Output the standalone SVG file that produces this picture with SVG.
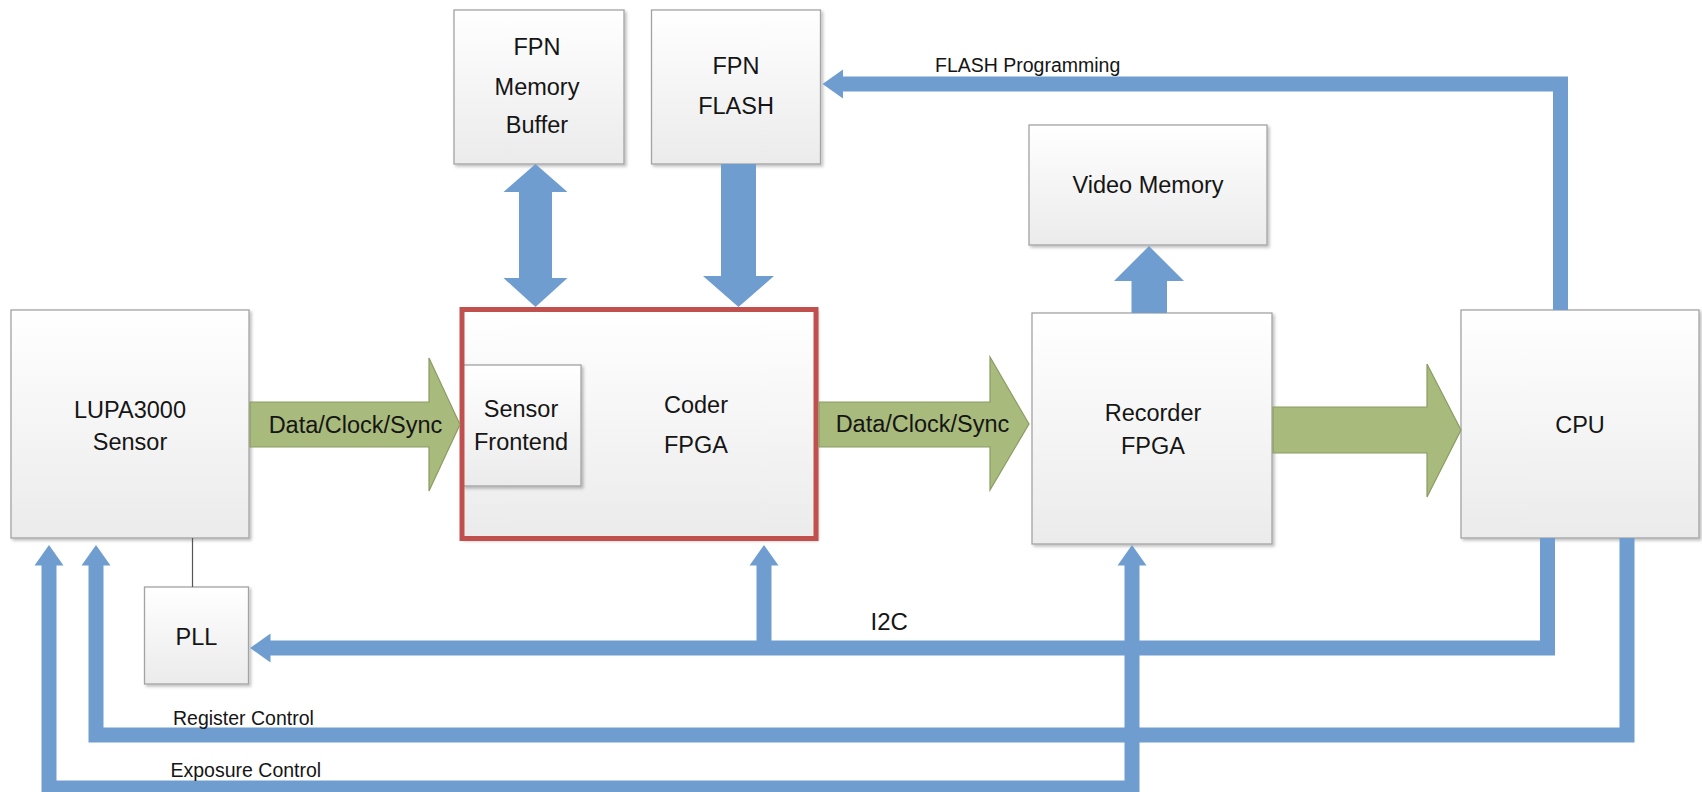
<svg xmlns="http://www.w3.org/2000/svg" width="1702" height="792" viewBox="0 0 1702 792">
  <defs>
    <linearGradient id="boxfill" x1="0" y1="0" x2="0" y2="1">
      <stop offset="0" stop-color="#ffffff"/>
      <stop offset="1" stop-color="#ebebeb"/>
    </linearGradient>
    <filter id="shadow" x="-10%" y="-10%" width="130%" height="130%">
      <feDropShadow dx="2" dy="2" stdDeviation="1.5" flood-color="#000" flood-opacity="0.25"/>
    </filter>
    <marker id="bh" markerUnits="userSpaceOnUse" markerWidth="22" markerHeight="30" refX="0" refY="14.5" orient="auto-start-reverse" overflow="visible">
      <path d="M-0.5,0 L20,14.5 L-0.5,29 Z" fill="#6f9dd0"/>
    </marker>
    <style>
      .box { fill: url(#boxfill); stroke: #a3a3a3; stroke-width: 1.3; filter: url(#shadow); }
      .lbl { font-family: "Liberation Sans", Arial, sans-serif; font-size: 23.5px; fill: #151515; text-anchor: middle; }
      .clbl { font-family: "Liberation Sans", Arial, sans-serif; font-size: 19.5px; fill: #151515; }
      .bus { fill: none; stroke: #6f9dd0; stroke-width: 15; stroke-linejoin: miter; stroke-linecap: butt; }
      .wide { fill: #6f9dd0; }
      .green { fill: #a8ba7c; stroke: #8b9c63; stroke-width: 1.2; }
      .red { fill: none; stroke: #c0504d; stroke-width: 5; }
    </style>
  </defs>

  <rect width="1702" height="792" fill="#ffffff"/>

  <g id="lupa3000-sensor">
    <rect class="box" x="11" y="310" width="238" height="228"/>
    <text class="lbl" x="130" y="417.5">LUPA3000</text>
    <text class="lbl" x="130" y="450">Sensor</text>
  </g>

  <g id="pll">
    <rect class="box" x="144.5" y="587" width="104" height="97"/>
    <text class="lbl" x="196.5" y="645">PLL</text>
  </g>

  <g id="fpn-memory-buffer">
    <rect class="box" x="454" y="10" width="170" height="154"/>
    <text class="lbl" x="537" y="55">FPN</text>
    <text class="lbl" x="537" y="95">Memory</text>
    <text class="lbl" x="537" y="133">Buffer</text>
  </g>

  <g id="fpn-flash">
    <rect class="box" x="651.5" y="10" width="169" height="154"/>
    <text class="lbl" x="736" y="74">FPN</text>
    <text class="lbl" x="736" y="114">FLASH</text>
  </g>

  <g id="coder-fpga">
    <rect class="box" x="462" y="309.5" width="354" height="229"/>
    <text class="lbl" x="696" y="413">Coder</text>
    <text class="lbl" x="696" y="453">FPGA</text>
    <g id="sensor-frontend">
      <rect class="box" x="463" y="365" width="118" height="121"/>
      <text class="lbl" x="521" y="417">Sensor</text>
      <text class="lbl" x="521" y="450">Frontend</text>
    </g>
    <rect class="red" x="462" y="309.5" width="354" height="229"/>
  </g>

  <g id="video-memory">
    <rect class="box" x="1029" y="125" width="238" height="120"/>
    <text class="lbl" x="1148" y="193">Video Memory</text>
  </g>

  <g id="recorder-fpga">
    <rect class="box" x="1032" y="313" width="240" height="231"/>
    <text class="lbl" x="1153" y="421">Recorder</text>
    <text class="lbl" x="1153" y="454">FPGA</text>
  </g>

  <g id="cpu">
    <rect class="box" x="1461" y="310" width="238" height="228"/>
    <text class="lbl" x="1580" y="433">CPU</text>
  </g>

  <g id="connectors">
    <!-- green data buses -->
    <path class="green" d="M250,402 H429 V358 L460,424.5 L429,491 V447 H250 Z"/>
    <text class="lbl" x="355.5" y="433">Data/Clock/Sync</text>
    <path class="green" d="M819,402 H990 V357 L1029,424 L990,490 V447 H819 Z"/>
    <text class="lbl" x="922.5" y="432">Data/Clock/Sync</text>
    <path class="green" d="M1273,407 H1427 V364 L1461,430 L1427,497 V453 H1273 Z"/>

    <!-- wide blue arrows -->
    <path class="wide" d="M535.5,164 L567.5,192 H552 V278 H567.5 L535.5,307 L503.5,278 H519 V192 H503.5 Z"/>
    <path class="wide" d="M721,164 H756 V276 H774 L738.5,307 L703,276 H721 Z"/>
    <path class="wide" d="M1131.5,313 V281 H1114 L1149,246 L1184,281 H1167 V313 Z"/>

    <!-- thin link LUPA to PLL -->
    <line x1="192.5" y1="538" x2="192.5" y2="587" stroke="#555555" stroke-width="1.2"/>

    <!-- FLASH programming -->
    <path class="bus" d="M1560.5,310 V84 H842.5" marker-end="url(#bh)"/>
    <text class="clbl" x="935" y="72">FLASH Programming</text>

    <!-- I2C -->
    <path class="bus" d="M1547.5,538 V648 H270" marker-end="url(#bh)"/>
    <path class="bus" d="M764,648 V565" marker-end="url(#bh)"/>
    <text class="clbl" x="870.5" y="630" style="font-size:24px">I2C</text>

    <!-- Register control -->
    <path class="bus" d="M1627,538 V735 H96 V565" marker-end="url(#bh)"/>
    <text class="clbl" x="173" y="725">Register Control</text>

    <!-- Exposure control -->
    <path class="bus" d="M49,565 V788 H1132 V565" marker-start="url(#bh)" marker-end="url(#bh)"/>
    <text class="clbl" x="170.5" y="777">Exposure Control</text>
  </g>
</svg>
